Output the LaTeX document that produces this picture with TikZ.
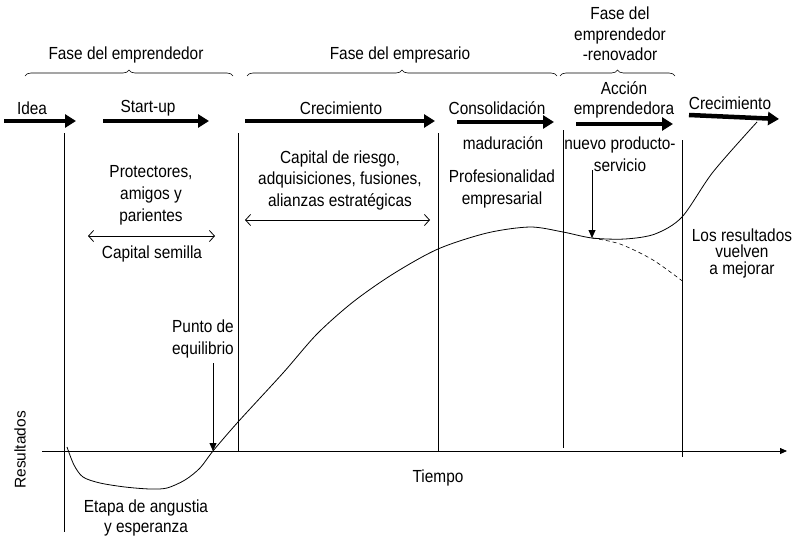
\documentclass[tikz,border=0pt]{standalone}
\usepackage{fontspec}
\setmainfont{Liberation Sans}[FakeStretch=0.88]
\newfontfamily\plainfont{Liberation Sans}
\usetikzlibrary{arrows.meta,decorations.pathreplacing}
\tikzset{
  lbl/.style={font=\fontsize{17.5}{22}\selectfont, align=center, inner sep=0pt},
  bigarrow/.style={line width=4.5pt, -{Triangle[length=11pt,width=13pt]}},
  thinline/.style={line width=0.8pt},
  pointer/.style={line width=0.8pt, -{Triangle[length=8pt,width=7pt]}},
  dbl/.style={line width=0.8pt, {Straight Barb[length=5pt,width=11pt]}-{Straight Barb[length=5pt,width=11pt]}},
  phase/.style={decorate, decoration={brace, amplitude=6pt}, line width=0.6pt},
  curve/.style={line width=0.8pt}
}
\begin{document}
\begin{tikzpicture}[x=1pt,y=-1pt]
\useasboundingbox (0,0) rectangle (798,538);
% phase labels and braces
\node[lbl] (fe) at (126,55) {Fase del emprendedor};
\node[lbl] (fem) at (400,55) {Fase del empresario};
\node[lbl, font=\fontsize{17.5}{20.5}\selectfont] (fer) at (620,34) {Fase del\\emprendedor\\-renovador};
\draw[phase] (25,76) -- (233,76);
\draw[phase] (247,76) -- (557,76);
\draw[phase] (560,76) -- (675,76);
% stage labels
\node[lbl] (idea) at (32,108) {Idea};
\node[lbl] (st) at (148,108) {Start-up};
\node[lbl] (cr1) at (341,108) {Crecimiento};
\node[lbl] (co) at (497,108) {Consolidación};
\node[lbl, font=\fontsize{17.5}{20}\selectfont] (ac) at (624,100) {Acción\\emprendedora};
\node[lbl] (cr2) at (730,103) {Crecimiento};
% big arrows
\coordinate (a1s) at (4,121);   \coordinate (a1e) at (76,121);
\coordinate (a2s) at (103,121); \coordinate (a2e) at (209,121);
\coordinate (a3s) at (245,121); \coordinate (a3e) at (435,121);
\coordinate (a4s) at (457,122); \coordinate (a4e) at (554,122);
\coordinate (a5s) at (576,124); \coordinate (a5e) at (673,124);
\coordinate (a6s) at (689,115); \coordinate (a6e) at (779,119);
\draw[bigarrow] (a1s) -- (a1e);
\draw[bigarrow] (a2s) -- (a2e);
\draw[bigarrow] (a3s) -- (a3e);
\draw[bigarrow] (a4s) -- (a4e);
\draw[bigarrow] (a5s) -- (a5e);
\draw[bigarrow] (a6s) -- (a6e);
% vertical lines
\coordinate (v1t) at (64,133);  \coordinate (v1b) at (64,532);
\coordinate (v2t) at (238,133); \coordinate (v2b) at (238,451);
\coordinate (v3t) at (438,133); \coordinate (v3b) at (438,451);
\coordinate (v4t) at (563,130); \coordinate (v4b) at (563,448);
\coordinate (v5t) at (682,140); \coordinate (v5b) at (682,457);
\draw[thinline] (v1t) -- (v1b);
\draw[thinline] (v2t) -- (v2b);
\draw[thinline] (v3t) -- (v3b);
\draw[thinline] (v4t) -- (v4b);
\draw[thinline] (v5t) -- (v5b);
% axis
\coordinate (ax0) at (42,451); \coordinate (ax1) at (787,451);
\draw[thinline, -{Triangle[length=7pt,width=6pt]}] (ax0) -- (ax1);
\node[lbl] (tiempo) at (438,478) {Tiempo};
\node[lbl, font=\plainfont\fontsize{15.5}{20}\selectfont, rotate=90] (res) at (20,450) {Resultados};
% middle texts
\node[lbl] (prot) at (151,195) {Protectores,\\amigos y\\parientes};
\coordinate (d1a) at (88,236); \coordinate (d1b) at (215,236);
\draw[dbl] (d1a) -- (d1b);
\node[lbl] (semilla) at (152,254) {Capital semilla};
\node[lbl, font=\fontsize{17.5}{21.5}\selectfont] (riesgo) at (340,180) {Capital de riesgo,\\adquisiciones, fusiones,\\alianzas estratégicas};
\coordinate (d2a) at (245,220); \coordinate (d2b) at (430,220);
\draw[dbl] (d2a) -- (d2b);
\node[lbl] (mad) at (503,143) {maduración};
\node[lbl] (prof) at (502,189) {Profesionalidad\\empresarial};
\node[lbl] (nuevo) at (620,154) {nuevo producto-\\servicio};
\node[lbl, font=\fontsize{17.5}{16.5}\selectfont] (mejor) at (742,253) {Los resultados\\vuelven\\a mejorar};
\node[lbl] (punto) at (203,339) {Punto de\\equilibrio};
\node[lbl, font=\fontsize{17.5}{20}\selectfont] (etapa) at (146,518) {Etapa de angustia\\y esperanza};
% pointers
\coordinate (pe0) at (213,363); \coordinate (pe) at (213,451);
\draw[pointer] (pe0) -- (pe);
\coordinate (np0) at (592,170); \coordinate (np) at (592,238);
\draw[pointer] (np0) -- (np);
% result curve
\draw[curve] plot[smooth, tension=0.5] coordinates {
 (67,447) (74,465) (83,477) (100,483) (125,487) (150,489) (167,488) (185,480)
 (200,468) (213,451) (238,422) (283,373) (317,334) (353,302) (393,274)
 (438,249) (487,233) (530,227) (563,232) (592,238) (625,239) (655,234)
 (682,217) (713,172) (757,122)};
\draw[curve, dashed, dash pattern=on 4pt off 3pt, line width=0.6pt] plot[smooth] coordinates {
 (592,238) (620,244) (653,260) (685,283)};
\end{tikzpicture}
\end{document}
